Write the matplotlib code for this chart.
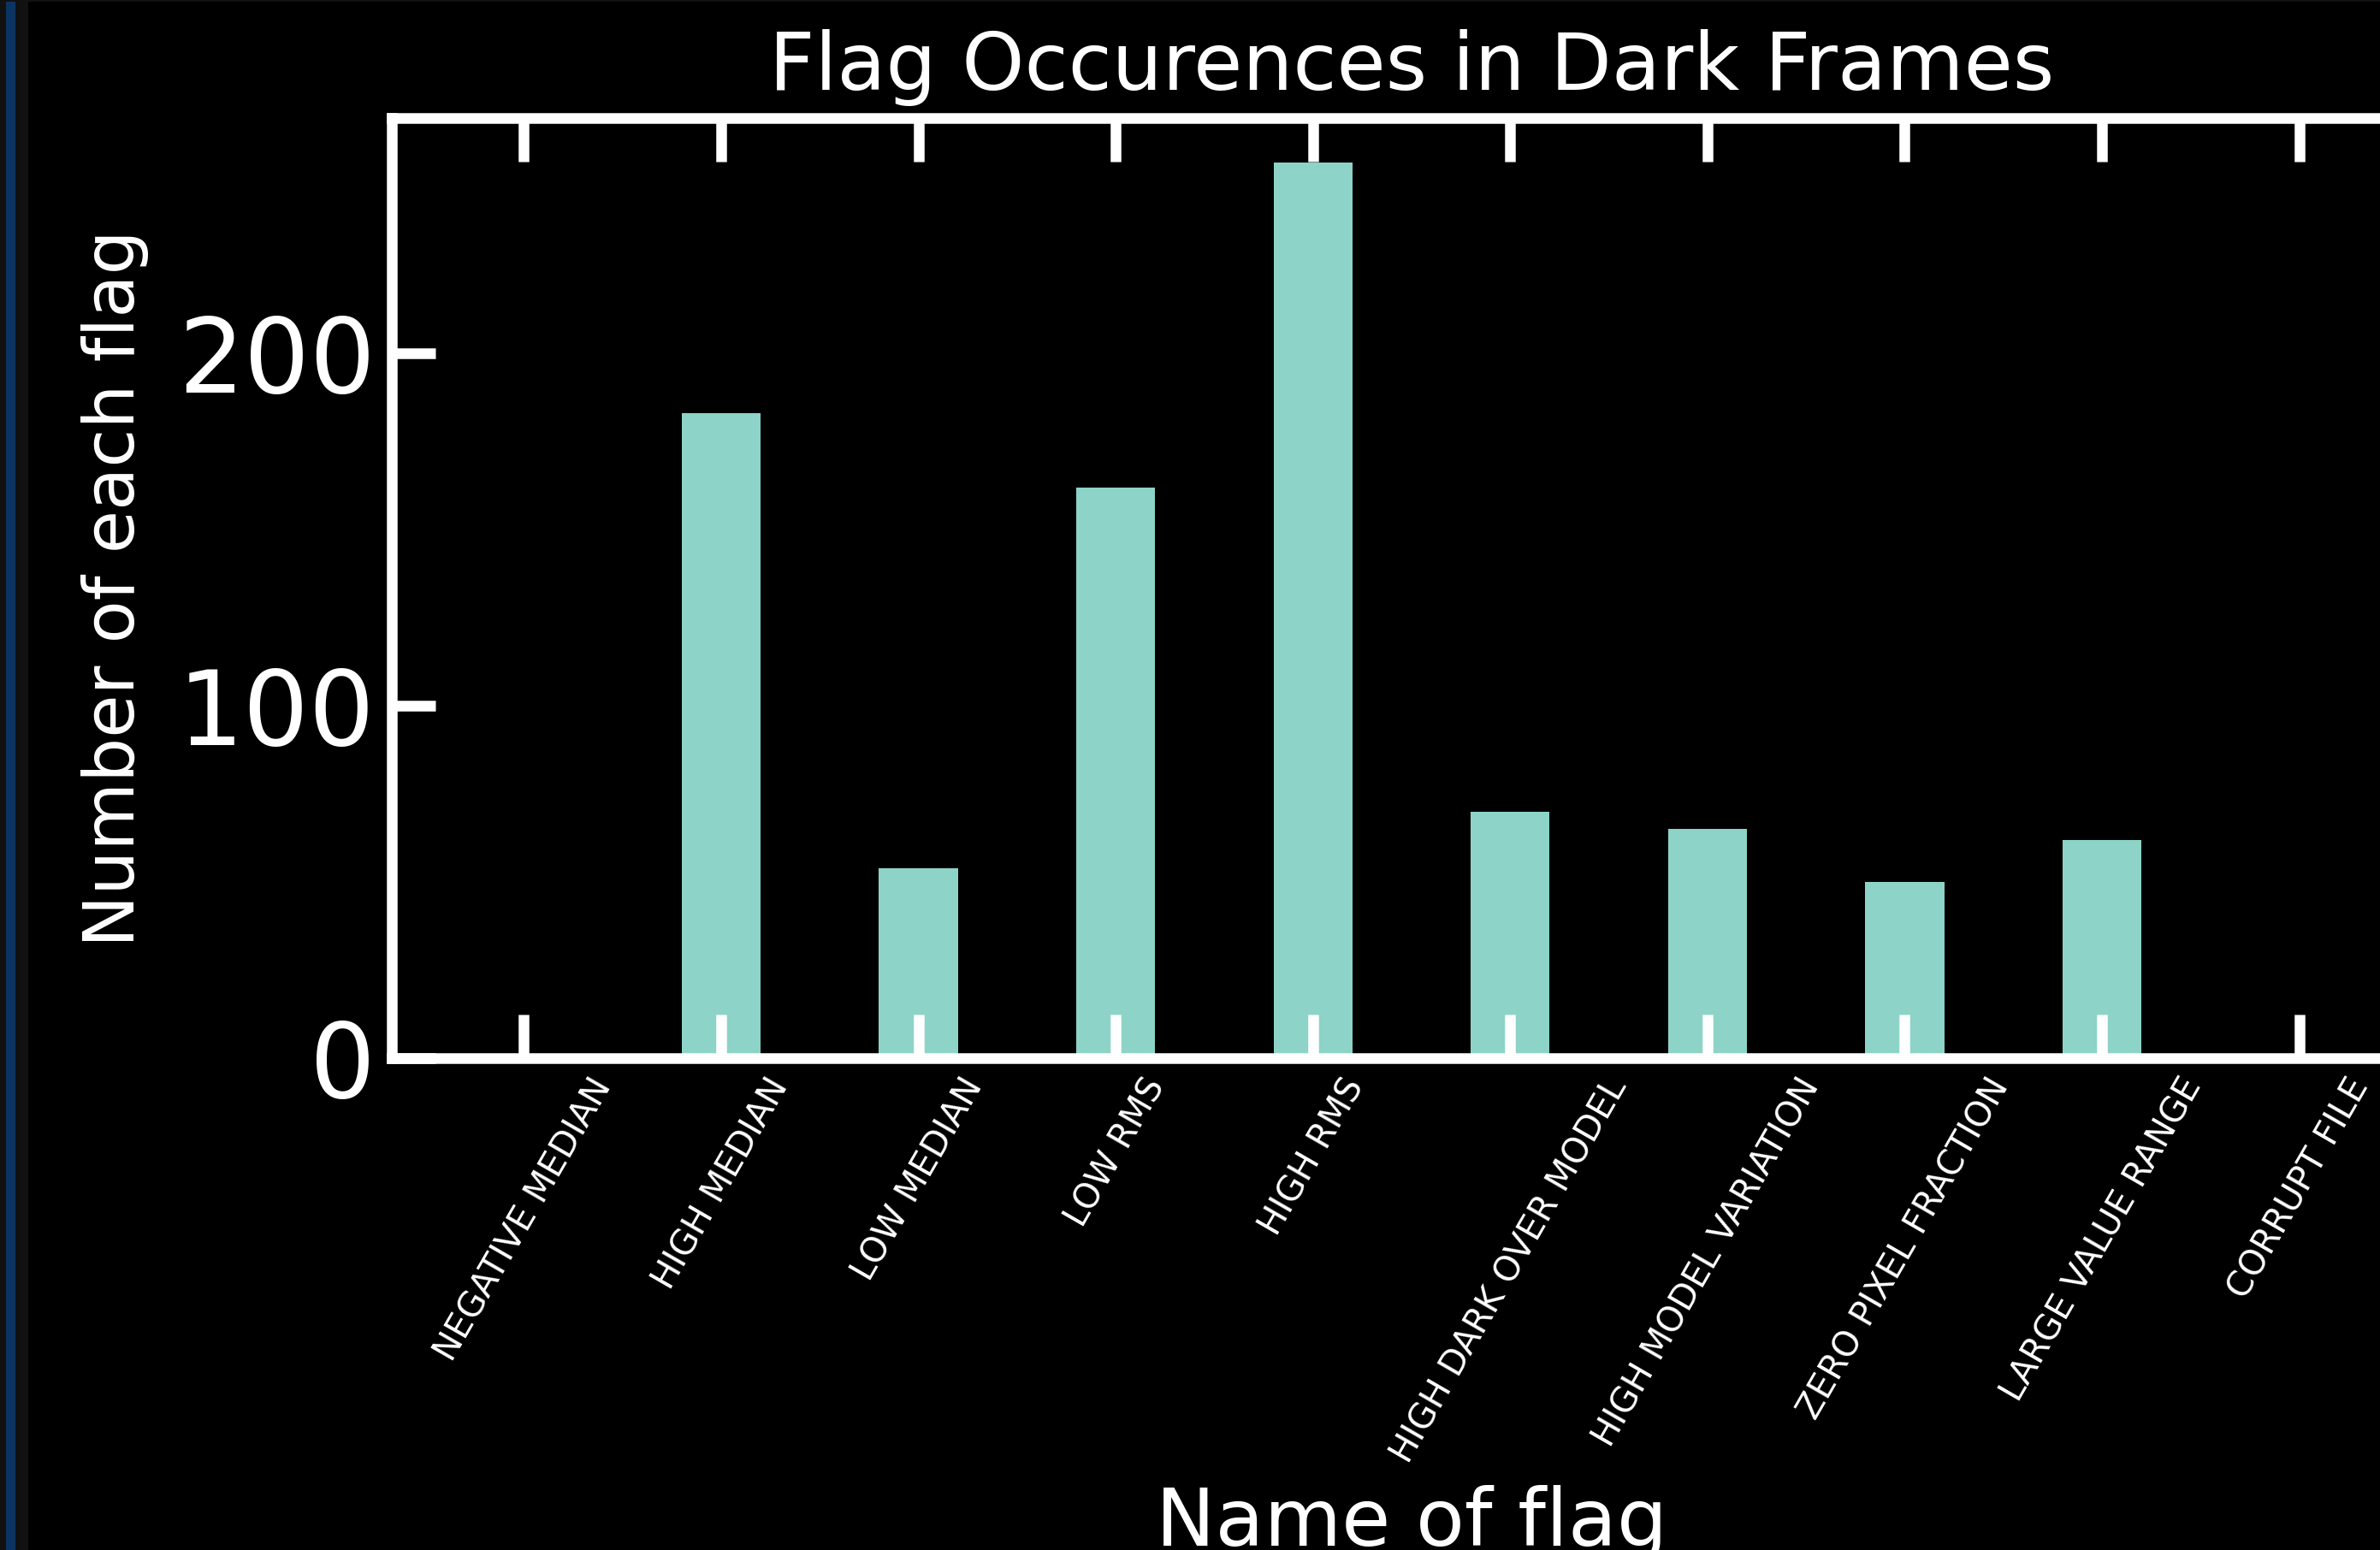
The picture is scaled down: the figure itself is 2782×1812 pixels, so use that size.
import matplotlib.pyplot as plt
from matplotlib.patches import Rectangle

flag_names = [
    "NEGATIVE MEDIAN",
    "HIGH MEDIAN",
    "LOW MEDIAN",
    "LOW RMS",
    "HIGH RMS",
    "HIGH DARK OVER MODEL",
    "HIGH MODEL VARIATION",
    "ZERO PIXEL FRACTION",
    "LARGE VALUE RANGE",
    "CORRUPT FILE",
]
flag_counts = [0, 183, 54, 162, 254, 70, 65, 50, 62, 0]
y_ticks = [0, 100, 200]

plt.style.use("dark_background")
fig = plt.figure(figsize=(27.82, 18.12), dpi=100)

# window frame around the plot area
fig.add_artist(Rectangle((0, 0), 0.0119, 1, transform=fig.transFigure,
                         facecolor="#111111", edgecolor="none"))
fig.add_artist(Rectangle((0.0025, 0), 0.004, 1, transform=fig.transFigure,
                         facecolor="#0b3462", edgecolor="none"))
fig.add_artist(Rectangle((0, 0.9989), 1, 0.0011, transform=fig.transFigure,
                         facecolor="#111111", edgecolor="none"))

ax = fig.add_axes([0.1646, 0.3173, 0.857, 0.6065])
ax.bar(flag_names, flag_counts, width=0.4)

ax.set_yticks(y_ticks)
ax.tick_params(direction="in", top=True, right=True, length=37, width=9)
ax.tick_params(axis="y", labelsize=87, pad=14)
ax.tick_params(axis="x", labelsize=29, labelrotation=60, pad=12)
for spine in ax.spines.values():
    spine.set_linewidth(9)

ax.set_title("Flag Occurences in Dark Frames", fontsize=67, pad=24)
ax.set_xlabel("Name of flag", fontsize=67, labelpad=14)
ax.set_ylabel("Number of each flag", fontsize=59, labelpad=24)

fig.savefig("out.png", dpi=100, facecolor="black")
